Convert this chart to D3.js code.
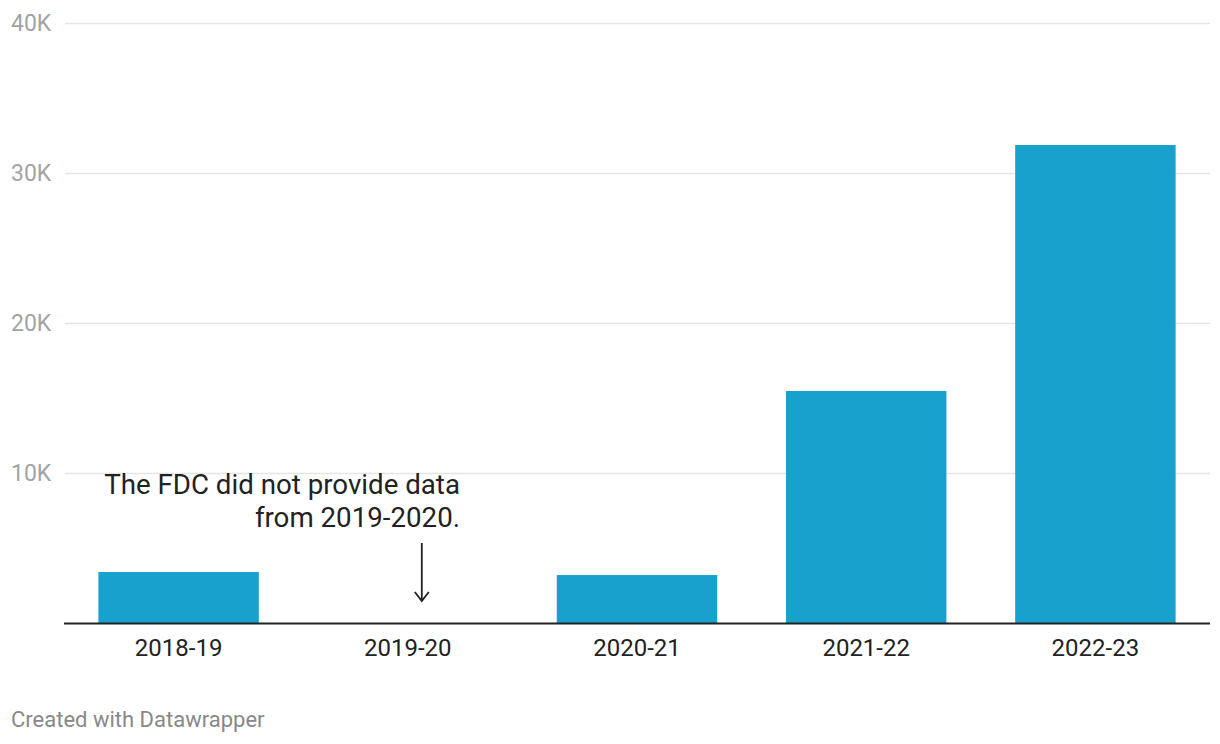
<!DOCTYPE html>
<html>
<head>
<meta charset="utf-8">
<script src="https://cdn.jsdelivr.net/npm/d3@7"></script>
<style>
  body { margin: 0; background: #fff; }
  text { font-family: Roboto, "Noto Sans", sans-serif; }
</style>
</head>
<body>
<div id="container"></div>
<script>

  // data
  const years = ["2018-19", "2019-20", "2020-21", "2021-22", "2022-23"];
  const counts = [3430, null, 3230, 15500, 31900];
  const yTicks = [0, 10000, 20000, 30000, 40000];
  const note = ["The FDC did not provide data", "from 2019-2020."];

  const width = 1220;
  const height = 744;

  const svg = d3.create("svg")
      .attr("width", width)
      .attr("height", height);

  const x = d3.scaleBand()
      .domain(years)
      .range([64, 1210])
      .paddingInner(0.3)
      .paddingOuter(0.15);

  const y = d3.scaleLinear()
      .domain([0, 40000])
      .range([623.5, 23.5]);

  // gridlines + y labels
  const grid = svg.append("g");
  grid.selectAll("line")
      .data(yTicks.filter(d => d > 0))
      .join("line")
      .attr("x1", 65)
      .attr("x2", 1210)
      .attr("y1", d => y(d))
      .attr("y2", d => y(d))
      .attr("stroke", "#e5e5e5")
      .attr("stroke-width", 1.5);

  grid.selectAll("text")
      .data(yTicks.filter(d => d > 0))
      .join("text")
      .attr("x", 11)
      .attr("y", d => y(d))
      .attr("dy", "0.33em")
      .attr("font-size", "23px")
      .attr("fill", "#a3a3a3")
      .text(d => d3.format("~s")(d).replace("k", "K"));

  // bars
  svg.append("g")
      .selectAll("rect")
      .data(years.map((d, i) => ({ year: d, value: counts[i] })).filter(d => d.value != null))
      .join("rect")
      .attr("x", d => x(d.year))
      .attr("width", x.bandwidth())
      .attr("y", d => y(d.value))
      .attr("height", d => y(0) - y(d.value))
      .attr("fill", "#18a1cd");

  // baseline
  svg.append("line")
      .attr("x1", 64)
      .attr("x2", 1210)
      .attr("y1", y(0))
      .attr("y2", y(0))
      .attr("stroke", "#222")
      .attr("stroke-width", 2);

  // x labels
  svg.append("g")
      .selectAll("text")
      .data(years)
      .join("text")
      .attr("x", d => x(d) + x.bandwidth() / 2)
      .attr("y", 656)
      .attr("text-anchor", "middle")
      .attr("font-size", "24px")
      .attr("fill", "#222")
      .text(d => d);

  // annotation
  const ann = svg.append("text")
      .attr("x", 460)
      .attr("y", 494)
      .attr("text-anchor", "end")
      .attr("font-size", "27.7px")
      .attr("fill", "#222");
  ann.selectAll("tspan")
      .data(note)
      .join("tspan")
      .attr("x", 460)
      .attr("dy", (d, i) => i ? 33 : 0)
      .text(d => d);

  // arrow sits a little right of the empty band's centre
  const ax = x("2019-20") + x.bandwidth() / 2 + 14;
  svg.append("path")
      .attr("d", `M${ax},543 L${ax},601 M${ax - 7},592 L${ax},601 L${ax + 7},592`)
      .attr("fill", "none")
      .attr("stroke", "#222")
      .attr("stroke-width", 1.8);

  // footer
  svg.append("text")
      .attr("x", 11)
      .attr("y", 727)
      .attr("font-size", "22px")
      .attr("fill", "#888")
      .text("Created with Datawrapper");

  container.append(svg.node());

</script>
</body>
</html>
